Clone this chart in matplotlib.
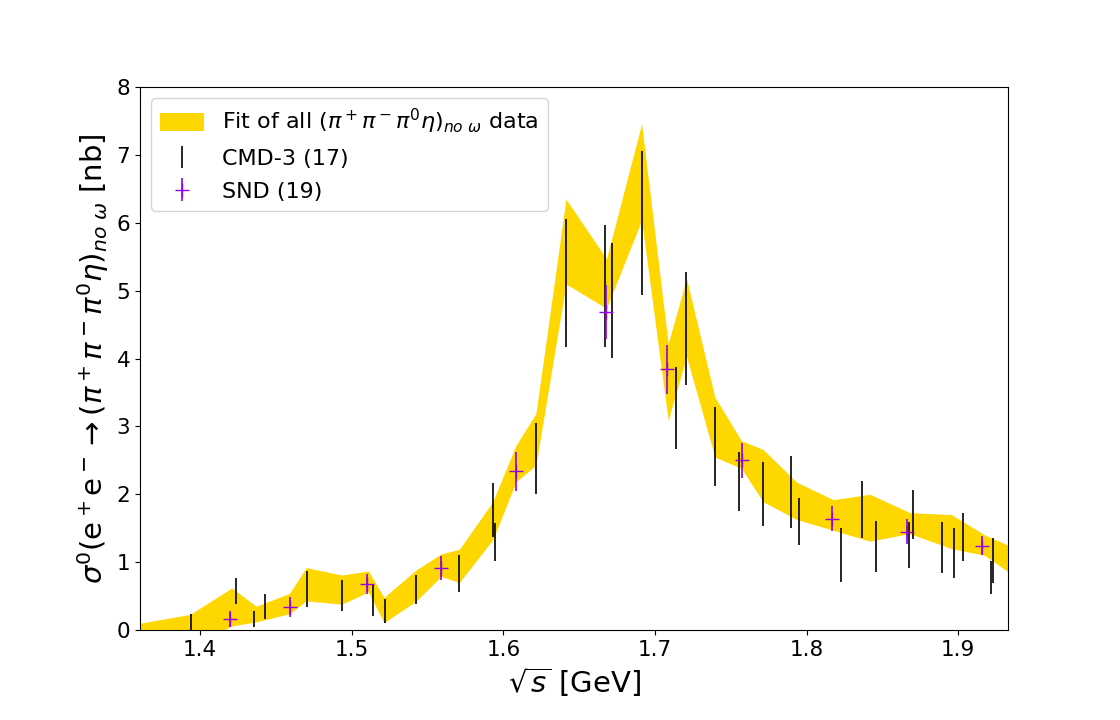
import matplotlib
matplotlib.use("Agg")
import matplotlib.pyplot as plt
import numpy as np

# Fit band (upper / lower edge of the fit uncertainty)
fit_x = [1.3604, 1.3934, 1.4210, 1.4370, 1.4590, 1.4700, 1.4934, 1.5110, 1.5213,
         1.5422, 1.5589, 1.5710, 1.5930, 1.6083, 1.6215, 1.6413, 1.6680, 1.6912,
         1.7087, 1.7208, 1.7395, 1.7570, 1.7713, 1.7933, 1.8175, 1.8417, 1.8680,
         1.8955, 1.9175, 1.9328]
fit_hi = [0.10, 0.23, 0.62, 0.35, 0.54, 0.92, 0.81, 0.87, 0.48,
          0.88, 1.12, 1.19, 1.89, 2.72, 3.19, 6.35, 5.47, 7.46,
          4.22, 5.18, 3.43, 2.79, 2.66, 2.18, 1.92, 2.00, 1.73,
          1.70, 1.40, 1.25]
fit_lo = [0.00, -0.25, 0.06, 0.12, 0.24, 0.43, 0.38, 0.56, 0.11,
          0.42, 0.79, 0.70, 1.33, 2.18, 2.43, 5.10, 4.74, 6.04,
          3.09, 4.03, 2.55, 2.38, 1.89, 1.63, 1.47, 1.31, 1.42,
          1.20, 1.10, 0.86]

# CMD-3 (17)
cmd_x = [1.3943, 1.4235, 1.4354, 1.4430, 1.4708, 1.4938, 1.5143, 1.5217, 1.5422,
         1.5710, 1.5930, 1.5943, 1.6217, 1.6415, 1.6672, 1.6718, 1.6912, 1.7140,
         1.7206, 1.7397, 1.7553, 1.7713, 1.7898, 1.7951, 1.8228, 1.8366, 1.8458,
         1.8676, 1.8702, 1.8893, 1.8973, 1.9028, 1.9217, 1.9230]
cmd_y = [0.08, 0.58, 0.165, 0.345, 0.605, 0.51, 0.43, 0.275, 0.60,
         0.83, 1.77, 1.29, 2.53, 5.11, 5.07, 4.86, 6.00, 3.27,
         4.44, 2.70, 2.19, 2.00, 2.04, 1.60, 1.10, 1.775, 1.23,
         1.255, 1.705, 1.21, 1.135, 1.375, 0.77, 1.02]
cmd_err = [0.15, 0.19, 0.115, 0.185, 0.265, 0.23, 0.23, 0.175, 0.21,
           0.27, 0.40, 0.28, 0.52, 0.94, 0.90, 0.85, 1.06, 0.60,
           0.83, 0.58, 0.43, 0.47, 0.53, 0.35, 0.40, 0.415, 0.37,
           0.335, 0.365, 0.375, 0.375, 0.355, 0.24, 0.33]

# SND (19)
snd_x = [1.420, 1.459, 1.510, 1.559, 1.6085, 1.6676, 1.708, 1.7575, 1.8168, 1.8663, 1.9157]
snd_y = [0.16, 0.34, 0.68, 0.91, 2.34, 4.69, 3.84, 2.50, 1.64, 1.45, 1.24]
snd_err = [0.12, 0.15, 0.15, 0.18, 0.285, 0.40, 0.36, 0.26, 0.18, 0.18, 0.14]

fig, ax = plt.subplots(figsize=(11.2, 7.2), dpi=100)
plt.subplots_adjust(left=0.125, right=0.9, bottom=0.125, top=0.879)

ax.fill_between(fit_x, fit_lo, fit_hi, color="gold", linewidth=0,
                label=r"Fit of all $(\pi^+\pi^-\pi^0\eta)_{no\ \omega}$ data")
ax.errorbar(cmd_x, cmd_y, yerr=cmd_err, fmt="none", ecolor="black", elinewidth=1.2,
            label="CMD-3 (17)")
ax.errorbar(snd_x, snd_y, yerr=snd_err, fmt="+", color="#9400e8", ecolor="#9400e8",
            markersize=9.5, elinewidth=1.2, label="SND (19)")

ax.set_xlim(fit_x[0], fit_x[-1])
ax.set_ylim(0, 8)
ax.tick_params(labelsize=15.5)
ax.set_xlabel(r"$\sqrt{s}$ [GeV]", fontsize=21)
ax.set_ylabel(r"$\sigma^0$(e$^+$e$^-$$\rightarrow$$(\pi^+\pi^-\pi^0\eta)_{no\ \omega}$ [nb]", fontsize=21)
ax.legend(loc="upper left", fontsize=16, handleheight=0.85, labelspacing=0.55)

plt.savefig("out.png", dpi=100)
plt.close()
